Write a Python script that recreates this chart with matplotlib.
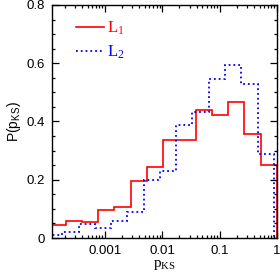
import numpy as np
import matplotlib
matplotlib.use('Agg')
import matplotlib.pyplot as plt
from matplotlib.ticker import MultipleLocator, FixedLocator, FixedFormatter, LogLocator, NullFormatter

plt.rcParams['mathtext.fontset'] = 'custom'
plt.rcParams['mathtext.rm'] = 'Liberation Serif'
plt.rcParams['mathtext.it'] = 'Liberation Serif:italic'
plt.rcParams['mathtext.sf'] = 'Liberation Sans'

# log10 bin edges (bins ~0.283 dex wide); L2 shifted slightly for visibility
bin_width = 0.2835
n_bins = 14
red_logedges = -bin_width * np.arange(n_bins, -1, -1)
blue_logedges = red_logedges - 0.055

red_vals = [0.046, 0.058, 0.056, 0.095, 0.105, 0.196, 0.245,
            0.336, 0.336, 0.440, 0.423, 0.466, 0.358, 0.250]
blue_vals = [0.011, 0.019, 0.049, 0.034, 0.058, 0.088, 0.200,
             0.230, 0.388, 0.433, 0.546, 0.595, 0.530, 0.290]

xticks = [0.001, 0.01, 0.1, 1]
xticklabels = ['0.001', '0.01', '0.1', '1']
yticks = [0, 0.2, 0.4, 0.6, 0.8]
yticklabels = ['0', '0.2', '0.4', '0.6', '0.8']

fig = plt.figure(figsize=(2.8, 2.75), dpi=100)
ax = fig.add_axes([0.186, 0.1345, 0.803, 0.8475])

ax.stairs(red_vals, 10**red_logedges, color='red', lw=1.2, label=r'$\mathrm{L_1}$')
ax.stairs(blue_vals, 10**blue_logedges, color='blue', lw=1.3, ls=':',
          label=r'$\mathrm{L_2}$')

ax.set_xscale('log')
ax.set_xlim(10**-3.92, 1.0)
ax.set_ylim(0, 0.8)

ax.xaxis.set_major_locator(FixedLocator(xticks))
ax.xaxis.set_major_formatter(FixedFormatter(xticklabels))
ax.xaxis.set_minor_locator(LogLocator(base=10, subs=np.arange(2, 10)))
ax.xaxis.set_minor_formatter(NullFormatter())
ax.yaxis.set_major_locator(FixedLocator(yticks))
ax.yaxis.set_major_formatter(FixedFormatter(yticklabels))
ax.yaxis.set_minor_locator(MultipleLocator(0.05))

ax.tick_params(which='both', direction='in', top=True, right=True, width=0.9)
ax.tick_params(which='major', length=5, labelsize=9.5, pad=5)
ax.tick_params(which='minor', length=2.5)
for lab in ax.get_xticklabels() + ax.get_yticklabels():
    lab.set_fontfamily('Liberation Sans')
for sp in ax.spines.values():
    sp.set_linewidth(1.0)

ax.set_xlabel(r'$\mathrm{p_{KS}}$', fontsize=11, labelpad=0)
ax.set_ylabel(r'$\mathsf{P(p_{KS})}$', fontsize=10, labelpad=3)

leg = ax.legend(loc='upper left', bbox_to_anchor=(0.04, 1.005), frameon=False,
                prop={'size': 12}, handlelength=1.7,
                handletextpad=0.15, labelspacing=0.35, labelcolor='linecolor')

fig.savefig('out.png', dpi=100)
